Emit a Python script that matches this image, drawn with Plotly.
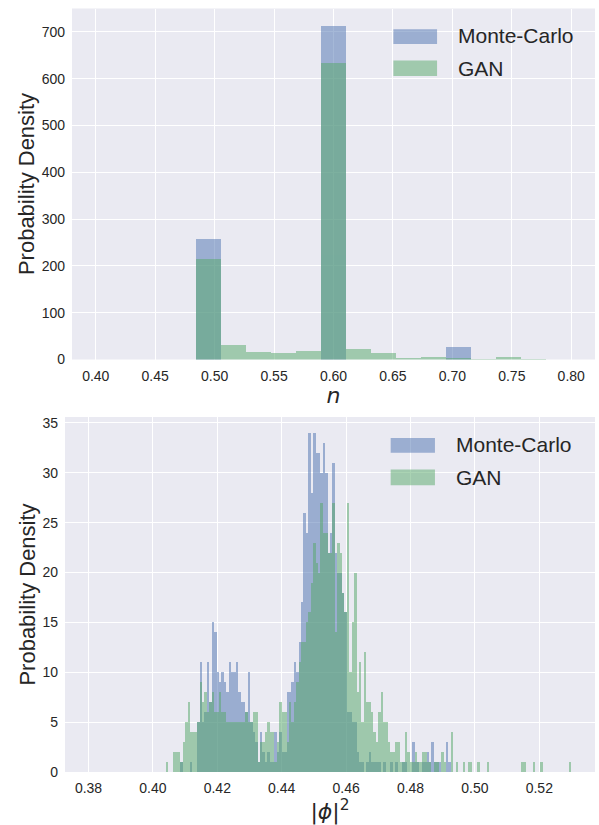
import numpy as np
import plotly.graph_objects as go

# ---------------- data ----------------
# top panel: histogram of n, 19 bins on [0.40, 0.80]
n_range = (0.40, 0.80)
n_nbins = 19
n_mc_density = [0, 0, 0, 0, 258, 0, 0, 0, 0, 714, 0, 0, 0, 0, 28, 0, 0, 0, 0]
n_gan_density = [0, 0, 0, 0, 216, 31, 18, 16, 20, 635, 23, 16, 4, 7, 4, 2, 6, 2, 0]

# bottom panel: histogram of |phi|^2, 200 bins on [0.38, 0.53]
phi_range = (0.38, 0.53)
phi_nbins = 200
phi_mc_density = [0] * 38 + [
    1, 0, 0, 0, 1, 0, 0, 5, 11, 5, 6, 11, 7, 15, 14, 10, 9, 10, 9, 8,      # 38-57
    11, 10, 10, 11, 8, 7, 7, 6, 10, 5, 4, 3, 1, 4, 2, 1, 2, 1, 1, 4,        # 58-77
    2, 4, 2, 2, 8, 8, 9, 11, 10, 13, 17, 26, 24, 34, 28, 34, 32, 32, 30, 33,  # 78-97
    30, 22, 24, 31, 22, 20, 20, 18, 16, 6, 6, 5, 5, 2, 1, 1, 0, 1, 2, 1,    # 98-117
    1, 1, 1, 0, 1, 0, 0, 1, 0, 1, 0, 0, 1, 1, 0, 0, 3, 1, 1, 0,             # 118-137
    1, 1, 2, 1, 3, 1, 1, 1, 0, 0, 3, 1,                                     # 138-149
] + [0] * 50
phi_gan_density = [0] * 32 + [
    1, 0, 0, 2, 2, 2, 1, 3, 5, 7, 4, 4, 4, 5, 9, 7, 8, 6, 7, 8,             # 32-51
    6, 6, 8, 6, 6, 5, 5, 5, 5, 5, 5, 5, 5, 6, 5, 5, 6, 6, 1, 3,             # 52-71
    3, 4, 5, 4, 4, 1, 3, 7, 6, 6, 3, 7, 5, 7, 9, 11, 13, 13, 15, 16,        # 72-91
    19, 23, 21, 20, 27, 24, 24, 22, 22, 27, 14, 23, 22, 18, 16, 27, 10, 15, 20, 8,  # 92-111
    11, 5, 12, 7, 7, 6, 4, 3, 6, 8, 5, 5, 3, 2, 2, 3, 3, 1, 1, 4,           # 112-131
    2, 1, 1, 2, 1, 1, 2, 2, 1, 1, 0, 1, 1, 0, 2, 1, 0, 0, 4, 0,             # 132-151
    1, 0, 0, 1, 0, 1, 1, 0, 0, 1, 0, 0, 0, 1, 0, 0, 0, 0, 0, 0,             # 152-171
    0, 0, 0, 0, 0, 0, 0, 1, 1, 0, 0, 0, 1, 0, 0, 1, 0, 0, 0, 0,             # 172-191
    0, 0, 0, 0, 0, 0, 0, 1,                                                 # 192-199
]

series_names = ["Monte-Carlo", "GAN"]
series_colors = ["#4C72B0", "#55A868"]

n_xticks = [0.40, 0.45, 0.50, 0.55, 0.60, 0.65, 0.70, 0.75, 0.80]
n_yticks = [0, 100, 200, 300, 400, 500, 600, 700]
phi_xticks = [0.38, 0.40, 0.42, 0.44, 0.46, 0.48, 0.50, 0.52]
phi_yticks = [0, 5, 10, 15, 20, 25, 30, 35]

# ---------------- figure ----------------
W, H = 599, 825
TXT = "#262626"
FONT = "Liberation Sans, Arial, sans-serif"


def bins(rng, nb):
    edges = np.linspace(rng[0], rng[1], nb + 1)
    return (edges[:-1] + edges[1:]) / 2, np.diff(edges)


fig = go.Figure()
for (rng, nb, data, xa, ya) in [
    (n_range, n_nbins, [n_mc_density, n_gan_density], "x", "y"),
    (phi_range, phi_nbins, [phi_mc_density, phi_gan_density], "x2", "y2"),
]:
    centers, widths = bins(rng, nb)
    for name, col, vals in zip(series_names, series_colors, data):
        fig.add_trace(go.Bar(
            x=centers, y=vals, width=widths, name=name,
            marker=dict(color=col, line=dict(width=0)), opacity=0.5,
            xaxis=xa, yaxis=ya, showlegend=False,
        ))

# plot-area pixel boxes
top_box = dict(l=72, r=595, t=8.5, b=359.5)
bot_box = dict(l=65, r=595, t=417, b=772)


def dom(box):
    return [box["l"] / W, box["r"] / W], [(H - box["b"]) / H, (H - box["t"]) / H]


tx, ty = dom(top_box)
bx, by = dom(bot_box)

axis_common = dict(
    showgrid=True, gridcolor="white", gridwidth=1, zeroline=False,
    showline=False, ticks="", automargin=False,
    tickfont=dict(family=FONT, size=14, color=TXT),
)

fig.update_layout(
    width=W, height=H, margin=dict(l=0, r=0, t=0, b=0),
    paper_bgcolor="white", plot_bgcolor="#EAEAF2",
    barmode="overlay", bargap=0, showlegend=False,
    xaxis=dict(domain=tx, anchor="y", range=[0.38, 0.82], tickvals=n_xticks,
               ticktext=[f"{v:.2f}" for v in n_xticks], ticklabelstandoff=6,
               title=dict(text="<i>n</i>", font=dict(family="DejaVu Sans", size=22, color=TXT), standoff=2),
               **axis_common),
    yaxis=dict(domain=ty, anchor="x", range=[0, 750], tickvals=n_yticks, ticklabelstandoff=6,
               title=dict(text="Probability Density", font=dict(family=FONT, size=22, color=TXT), standoff=0),
               **axis_common),
    xaxis2=dict(domain=bx, anchor="y2", range=[0.3727, 0.5373], tickvals=phi_xticks,
                ticktext=[f"{v:.2f}" for v in phi_xticks], ticklabelstandoff=6,
                title=dict(text="|<i>ϕ</i>|<sup>2</sup>", font=dict(family="DejaVu Sans", size=22, color=TXT), standoff=0),
                **axis_common),
    yaxis2=dict(domain=by, anchor="x2", range=[0, 35.6], tickvals=phi_yticks, ticklabelstandoff=6,
                title=dict(text="Probability Density", font=dict(family=FONT, size=22, color=TXT), standoff=0),
                **axis_common),
)

# manual legends (wide patches like matplotlib)
shapes, annos = [], []
for xa, ya in [("x", "y"), ("x2", "y2")]:
    patch_y = [(0.899, 0.941), (0.808, 0.852)]
    text_y = [0.922, 0.829]
    for (y0, y1), ty_, name, col in zip(patch_y, text_y, series_names, series_colors):
        shapes.append(dict(type="rect", xref=f"{xa} domain", yref=f"{ya} domain",
                           x0=0.6145, x1=0.698, y0=y0, y1=y1, fillcolor=col, opacity=0.5,
                           line=dict(width=0), layer="above"))
        annos.append(dict(text=name, xref=f"{xa} domain", yref=f"{ya} domain",
                          x=0.7337, y=ty_, xanchor="left", yanchor="middle", showarrow=False,
                          font=dict(family=FONT, size=21, color=TXT)))
fig.update_layout(shapes=shapes, annotations=annos)

fig.write_html("out.html", config={"displayModeBar": False},
               post_script="document.body.style.margin='0';")
